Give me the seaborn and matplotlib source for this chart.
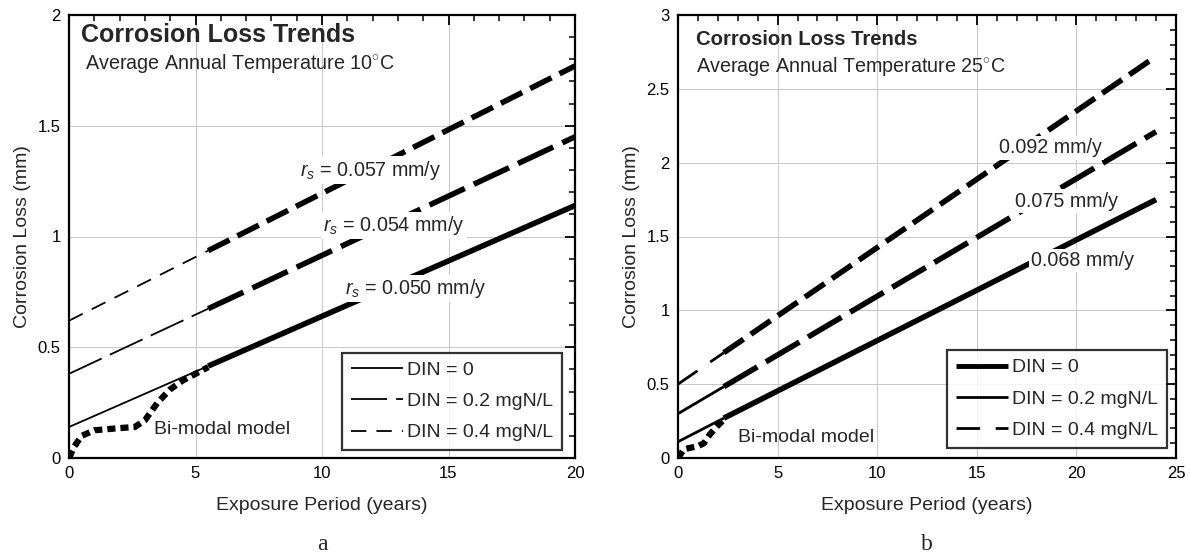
import numpy as np
import pandas as pd
import matplotlib
matplotlib.use("Agg")
import matplotlib.pyplot as plt
import seaborn as sns
from matplotlib.ticker import MultipleLocator

sns.set_theme(style="white")
plt.rcParams['font.family'] = ['Liberation Sans', 'DejaVu Sans']
plt.rcParams['mathtext.fontset'] = 'custom'
plt.rcParams['mathtext.it'] = 'Liberation Sans:italic'
plt.rcParams['mathtext.rm'] = 'Liberation Sans'

# ---- panel a data (10 C) ----
x_a = [0, 5.5, 20]
din0_a = [0.14, 0.415, 1.14]
din02_a = [0.38, 0.674, 1.45]
din04_a = [0.62, 0.936, 1.77]
bimodal_x_a = [0, 0.2, 0.5, 1.0, 2.0, 2.6, 3.0, 3.5, 4.0, 4.5, 5.0, 5.5]
bimodal_y_a = [0.0, 0.05, 0.10, 0.125, 0.135, 0.14, 0.17, 0.25, 0.31, 0.35, 0.38, 0.41]
rates_a = ["0.057", "0.054", "0.050"]

# ---- panel b data (25 C) ----
x_b = [0, 2.3, 24]
din0_b = [0.11, 0.27, 1.75]
din02_b = [0.30, 0.483, 2.21]
din04_b = [0.50, 0.713, 2.72]
bimodal_x_b = [0, 0.3, 1.0, 1.3, 1.6, 2.0, 2.3]
bimodal_y_b = [0.0, 0.06, 0.08, 0.10, 0.16, 0.22, 0.26]
rates_b = ["0.092", "0.075", "0.068"]

legend_labels = ["DIN = 0", "DIN = 0.2 mgN/L", "DIN = 0.4 mgN/L"]

W, H = 1190, 557
fig = plt.figure(figsize=(W / 100, H / 100), dpi=100)
ax_a = fig.add_axes([69 / W, (H - 458) / H, 506 / W, 443 / H])
ax_b = fig.add_axes([678 / W, (H - 458) / H, 498 / W, 443 / H])

styles = [
    dict(thin=dict(linestyle='-', linewidth=1.3), thick=dict(linestyle='-', linewidth=4.0)),
    dict(thin=dict(linestyle=(0, (20, 5)), linewidth=1.3), thick=dict(linestyle=(0, (7, 1.8)), linewidth=4.0)),
    dict(thin=dict(linestyle=(0, (8.5, 5.6)), linewidth=1.3), thick=dict(linestyle=(0, (4.3, 1.6)), linewidth=4.0)),
]


def draw_panel(ax, xs, series, bx, by, thin_lw=1.3):
    for i, ys in enumerate(series):
        st = styles[i]
        thin = dict(st['thin'])
        thin['linewidth'] = thin_lw
        sns.lineplot(x=xs[:2], y=ys[:2], ax=ax, color='black', label=legend_labels[i],
                     solid_capstyle='butt', dash_capstyle='butt', zorder=3, **thin)
        sns.lineplot(x=xs[1:], y=ys[1:], ax=ax, color='black',
                     solid_capstyle='butt', dash_capstyle='butt', zorder=3, **st['thick'])
    sns.lineplot(x=bx, y=by, ax=ax, color='black', linewidth=4.5,
                 linestyle=(0, (1.3, 0.8)), dash_capstyle='butt', zorder=3, sort=False)


def style_axes(ax, xmax, ymax, leg_xy):
    ax.set_xlim(0, xmax)
    ax.set_ylim(0, ymax)
    ax.xaxis.set_major_locator(MultipleLocator(5))
    ax.xaxis.set_minor_locator(MultipleLocator(1))
    ax.yaxis.set_major_locator(MultipleLocator(0.5))
    ax.yaxis.set_minor_locator(MultipleLocator(0.1))
    ax.xaxis.set_major_formatter(plt.FuncFormatter(lambda v, p: f"{v:g}"))
    ax.yaxis.set_major_formatter(plt.FuncFormatter(lambda v, p: f"{v:g}"))
    ax.tick_params(which='both', direction='in', top=True, right=True, colors='black',
                   labelsize=12, pad=6)
    ax.tick_params(which='major', length=7, width=1.3)
    ax.tick_params(which='minor', length=4, width=1.1)
    ax.grid(True, which='major', color='#c8c8c8', linewidth=0.7)
    for sp in ax.spines.values():
        sp.set_color('black')
        sp.set_linewidth(1.6)
    ax.set_xlabel("Exposure Period (years)", fontsize=14, labelpad=11)
    ax.set_ylabel("Corrosion Loss (mm)", fontsize=14, labelpad=5)
    leg = ax.legend(loc='lower left', bbox_to_anchor=leg_xy, bbox_transform=ax.transData,
                    fontsize=14, frameon=True, fancybox=False, borderaxespad=0,
                    handlelength=2.7, handletextpad=0.2, borderpad=0.45, labelspacing=0.7)
    leg.get_frame().set_edgecolor('black')
    leg.get_frame().set_linewidth(1.6)
    leg.set_zorder(6)
    return leg


box = dict(facecolor='white', edgecolor='none', pad=1.5)

# panel a
draw_panel(ax_a, x_a, [din0_a, din02_a, din04_a], bimodal_x_a, bimodal_y_a)
style_axes(ax_a, 20, 2, (10.8, 0.035))
ax_a.text(0.47, 1.91, "Corrosion Loss Trends", fontsize=18, fontweight='bold', va='center', zorder=5)
ax_a.text(0.65, 1.78, "Average Annual Temperature 10$^{\\circ}$C", fontsize=14.2, va='center', zorder=5)
ax_a.text(9.14, 1.30, "$r_s$ = " + rates_a[0] + " mm/y", fontsize=14.2, va='center', bbox=box, zorder=4)
ax_a.text(10.05, 1.05, "$r_s$ = " + rates_a[1] + " mm/y", fontsize=14.2, va='center', bbox=box, zorder=4)
ax_a.text(10.92, 0.765, "$r_s$ = " + rates_a[2] + " mm/y", fontsize=14.2, va='center', bbox=box, zorder=4)
ax_a.text(3.35, 0.128, "Bi-modal model", fontsize=14, va='center', zorder=4)
pos = ax_a.get_position()
fig.text(pos.x0 + pos.width / 2, 12 / H, "a", fontsize=17, family='Liberation Serif',
         ha='center', va='center')

# panel b
draw_panel(ax_b, x_b, [din0_b, din02_b, din04_b], bimodal_x_b, bimodal_y_b, thin_lw=2.0)
leg_b = style_axes(ax_b, 25, 3, (13.5, 0.07))
leg_b.get_lines()[0].set_linewidth(3.5)
ax_b.text(0.9, 2.836, "Corrosion Loss Trends", fontsize=14.6, fontweight='bold', va='center', zorder=5)
ax_b.text(0.9, 2.65, "Average Annual Temperature 25$^{\\circ}$C", fontsize=14.2, va='center', zorder=5)
ax_b.text(16.09, 2.10, rates_b[0] + " mm/y", fontsize=14.2, va='center', bbox=box, zorder=4)
ax_b.text(16.9, 1.74, rates_b[1] + " mm/y", fontsize=14.2, va='center', bbox=box, zorder=4)
ax_b.text(17.72, 1.337, rates_b[2] + " mm/y", fontsize=14.2, va='center', bbox=box, zorder=4)
ax_b.text(3.0, 0.137, "Bi-modal model", fontsize=14, va='center', zorder=4)
pos = ax_b.get_position()
fig.text(pos.x0 + pos.width / 2, 12 / H, "b", fontsize=17, family='Liberation Serif',
         ha='center', va='center')

fig.savefig("out.png", dpi=100, facecolor='white')
